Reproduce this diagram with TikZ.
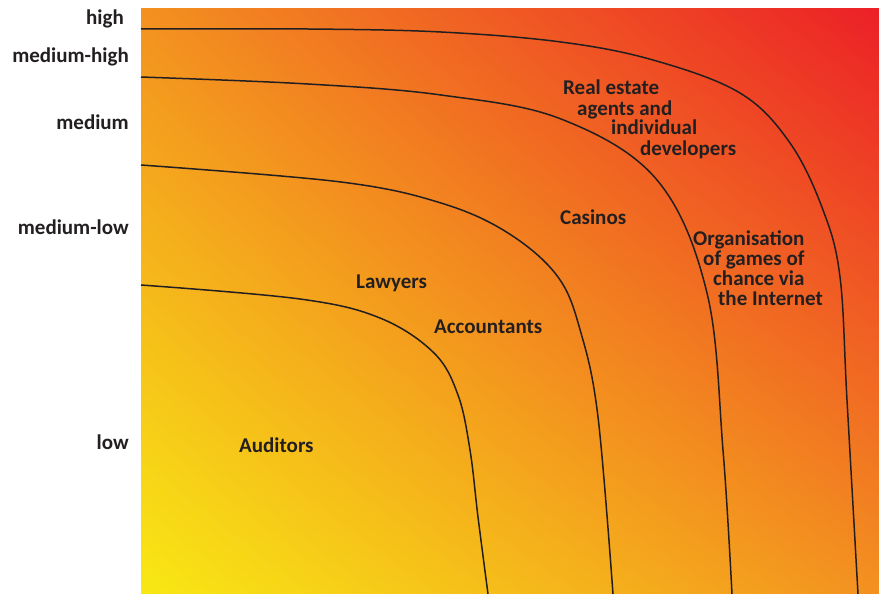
\documentclass[tikz,border=0pt]{standalone}
\usepackage{fontspec}
\setmainfont{Carlito}
\usetikzlibrary{shadings}
\definecolor{txt}{HTML}{231F20}
\definecolor{sunyellow}{HTML}{F8E814}
\definecolor{midorange}{HTML}{F39120}
\definecolor{hotred}{HTML}{EC2027}
\tikzset{
	lvl/.style={anchor=base east, text=txt, inner sep=0pt, font=\fontsize{21}{21}\selectfont\bfseries},
	lbl/.style={anchor=base west, text=txt, inner sep=0pt, font=\fontsize{21}{21}\selectfont\bfseries},
	band/.style={draw=txt, line width=1.5pt}
}
\begin{document}
\begin{tikzpicture}[x=1pt,y=-1pt]
	\useasboundingbox (0,0) rectangle (879,594);
	\shade[lower left=sunyellow, upper left=midorange, lower right=midorange, upper right=hotred] (141,594) rectangle (879,9);

	% risk levels
	\node[lvl] (high) at (124,25) {high};
	\node[lvl] (mhigh) at (129,63) {medium-high};
	\node[lvl] (medium) at (129,129) {medium};
	\node[lvl] (mlow) at (129,234) {medium-low};
	\node[lvl] (low) at (129,449) {low};

	% bands
	\draw[band] plot[smooth, tension=.6] coordinates {(141,29) (308,29) (441,32) (561,42) (653,60) (740,93) (790,143) (823,210) (840,277) (847,400) (858,594)};
	\draw[band] plot[smooth, tension=.6] coordinates {(141,77) (308,84) (441,95) (561,119) (657,180) (707,293) (723,450) (732,594)};
	\draw[band] plot[smooth, tension=.6] coordinates {(141,165) (341,182) (441,203) (508,233) (558,277) (581,333) (598,417) (613,594)};
	\draw[band] plot[smooth, tension=.6] coordinates {(141,285) (300,299) (380,318) (434,353) (458,395) (470,450) (478,517) (488,594)};

	% sectors
	\node[lbl] (auditors) at (239,452) {Auditors};
	\node[lbl] (lawyers) at (356,288) {Lawyers};
	\node[lbl] (accountants) at (434,333) {Accountants};
	\node[lbl] (casinos) at (560,224) {Casinos};
	\node[lbl] (realA) at (563,95) {Real estate};
	\node[lbl] (realB) at (577,115) {agents and};
	\node[lbl] (realC) at (611,135) {individual};
	\node[lbl] (realD) at (640,155) {developers};
	\node[lbl] (gamesA) at (693,245) {Organisation};
	\node[lbl] (gamesB) at (703,265) {of games of};
	\node[lbl] (gamesC) at (713,285) {chance via};
	\node[lbl] (gamesD) at (718,305) {the Internet};
\end{tikzpicture}
\end{document}
